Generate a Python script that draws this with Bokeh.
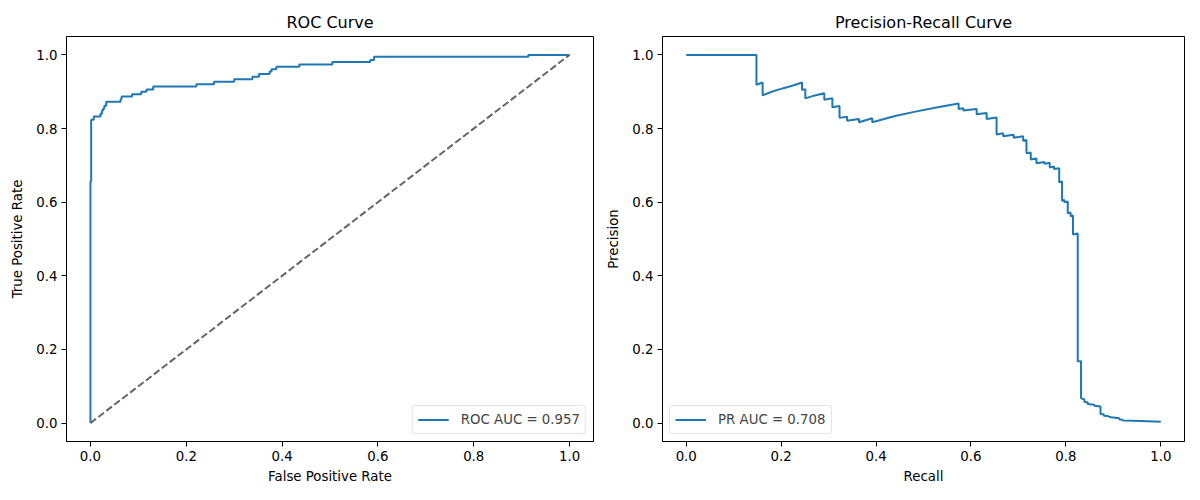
from bokeh.plotting import figure
from bokeh.layouts import row
from bokeh.models import FixedTicker, Range1d
from bokeh.embed import file_html
from bokeh.resources import INLINE

# ---------------- data ----------------
roc_fpr = [0, 0, 0.0015, 0.0015, 0.007, 0.007, 0.021, 0.021, 0.024, 0.024, 0.026, 0.026,
           0.029, 0.029, 0.033, 0.033, 0.063, 0.063, 0.065, 0.065, 0.087, 0.087, 0.106, 0.106,
           0.117, 0.117, 0.131, 0.131, 0.221, 0.221, 0.258, 0.258, 0.300, 0.300, 0.338, 0.338,
           0.352, 0.352, 0.374, 0.374, 0.378, 0.378, 0.388, 0.388, 0.436, 0.436, 0.505, 0.505,
           0.584, 0.584, 0.592, 0.592, 0.914, 0.914, 1.0]
roc_tpr = [0, 0.656, 0.656, 0.824, 0.824, 0.833, 0.833, 0.840, 0.840, 0.848, 0.848, 0.854,
           0.854, 0.862, 0.862, 0.873, 0.873, 0.880, 0.880, 0.887, 0.887, 0.893, 0.893, 0.900,
           0.900, 0.906, 0.906, 0.914, 0.914, 0.920, 0.920, 0.927, 0.927, 0.934, 0.934, 0.941,
           0.941, 0.948, 0.948, 0.955, 0.955, 0.961, 0.961, 0.968, 0.968, 0.974, 0.974, 0.981,
           0.981, 0.986, 0.986, 0.995, 0.995, 1.0, 1.0]
chance_x = [0, 1]
chance_y = [0, 1]

pr_recall = [0.0, 0.148, 0.148, 0.161, 0.161, 0.180, 0.203, 0.225, 0.244, 0.244, 0.251, 0.251,
             0.271, 0.291, 0.291, 0.308, 0.308, 0.323, 0.323, 0.339, 0.339, 0.364, 0.364,
             0.392, 0.392, 0.440, 0.483, 0.530, 0.574, 0.574, 0.584, 0.584, 0.612, 0.612,
             0.633, 0.633, 0.654, 0.654, 0.668, 0.668, 0.690, 0.690, 0.710, 0.710, 0.717,
             0.717, 0.726, 0.726, 0.738, 0.738, 0.755, 0.755, 0.766, 0.766, 0.775, 0.775,
             0.786, 0.786, 0.792, 0.792, 0.797, 0.797, 0.804, 0.804, 0.810, 0.810, 0.815,
             0.815, 0.825, 0.825, 0.832, 0.832, 0.839, 0.839, 0.846, 0.846, 0.860, 0.860,
             0.873, 0.873, 0.880, 0.880, 0.888, 0.895, 0.913, 0.913, 0.920, 0.920, 0.958, 1.0]
pr_precision = [1.0, 1.0, 0.919, 0.925, 0.890, 0.900, 0.909, 0.917, 0.925, 0.905, 0.907, 0.882,
                0.890, 0.896, 0.878, 0.882, 0.858, 0.861, 0.829, 0.832, 0.821, 0.826, 0.817,
                0.828, 0.817, 0.834, 0.846, 0.858, 0.868, 0.853, 0.855, 0.849, 0.853, 0.839,
                0.842, 0.826, 0.830, 0.784, 0.787, 0.779, 0.783, 0.775, 0.779, 0.767, 0.769,
                0.733, 0.735, 0.716, 0.719, 0.706, 0.709, 0.704, 0.707, 0.694, 0.697, 0.690,
                0.692, 0.654, 0.656, 0.604, 0.606, 0.600, 0.602, 0.570, 0.572, 0.562, 0.564,
                0.512, 0.515, 0.168, 0.168, 0.068, 0.064, 0.058, 0.056, 0.052, 0.050, 0.047,
                0.045, 0.025, 0.024, 0.020, 0.019, 0.016, 0.013, 0.010, 0.009, 0.007, 0.006, 0.0035]

tick_values = [0.0, 0.2, 0.4, 0.6, 0.8, 1.0]
tick_labels = ["0.0", "0.2", "0.4", "0.6", "0.8", "1.0"]

roc_label = "ROC AUC = 0.957"
pr_label = "PR AUC = 0.708"
BLUE = "#1f77b4"
FONT = "DejaVu Sans"


def style(p, xlabel, ylabel):
    p.x_range = Range1d(-0.05, 1.05)
    p.y_range = Range1d(-0.05, 1.05)
    p.grid.visible = False
    p.outline_line_color = "black"
    p.outline_line_width = 1
    p.title.align = "center"
    p.title.text_font = FONT
    p.title.text_font_size = "16px"
    p.title.text_font_style = "normal"
    p.title.text_color = "black"
    p.title.standoff = 9
    for ax in (p.xaxis[0], p.yaxis[0]):
        ax.ticker = FixedTicker(ticks=tick_values)
        ax.major_label_overrides = {v: s for v, s in zip(tick_values, tick_labels)}
        ax.minor_tick_line_color = None
        ax.major_tick_in = 0
        ax.major_tick_out = 5
        ax.major_tick_line_color = "black"
        ax.axis_line_color = "black"
        ax.major_label_text_font = FONT
        ax.major_label_text_font_size = "13.33px"
        ax.major_label_text_color = "black"
        ax.axis_label_text_font = FONT
        ax.axis_label_text_font_size = "13.33px"
        ax.axis_label_text_font_style = "normal"
        ax.axis_label_text_color = "black"
        ax.major_label_standoff = 4
    p.xaxis[0].axis_label = xlabel
    p.yaxis[0].axis_label = ylabel
    p.xaxis[0].axis_label_standoff = 5
    p.yaxis[0].axis_label_standoff = 8


def style_legend(p, loc):
    lg = p.legend[0]
    lg.location = loc
    lg.margin = 7
    lg.padding = 5
    lg.spacing = 0
    lg.label_height = 17
    lg.glyph_height = 17
    lg.glyph_width = 31
    lg.label_standoff = 12
    lg.label_text_font = FONT
    lg.label_text_font_size = "13.33px"
    lg.border_line_color = "#cccccc"
    lg.border_line_width = 1
    lg.border_radius = 3
    lg.background_fill_alpha = 0.8


p1 = figure(width=603, height=492, title="ROC Curve", output_backend="svg",
            toolbar_location=None, min_border_left=66, min_border_right=10,
            min_border_top=36, min_border_bottom=51)
style(p1, "False Positive Rate", "True Positive Rate")
p1.line(roc_fpr, roc_tpr, line_color=BLUE, line_width=2, legend_label=roc_label)
p1.line(chance_x, chance_y, line_color="#666666", line_width=2, line_dash="7 3")
style_legend(p1, "bottom_right")

p2 = figure(width=589, height=492, title="Precision-Recall Curve", output_backend="svg",
            toolbar_location=None, min_border_left=56, min_border_right=8,
            min_border_top=36, min_border_bottom=51)
style(p2, "Recall", "Precision")
p2.line(pr_recall, pr_precision, line_color=BLUE, line_width=2, legend_label=pr_label)
style_legend(p2, "bottom_left")

layout = row(p1, p2)
open("out.html", "w").write(file_html(layout, INLINE))
